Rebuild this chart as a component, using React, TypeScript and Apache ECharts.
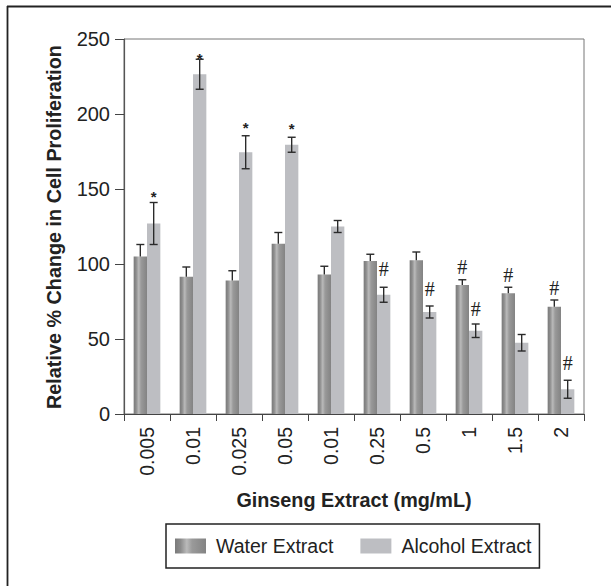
import React, { useEffect, useRef } from "react";
import * as echarts from "echarts";

const categories = ["0.005", "0.01", "0.025", "0.05", "0.01", "0.25", "0.5", "1", "1.5", "2"];
const waterValues = [105, 91.5, 89, 113.5, 93, 102, 102.5, 86, 80.5, 71.5];
const waterErrors = [8, 6.5, 6.5, 7.5, 5.5, 4.5, 5.5, 3.5, 4, 4.5];
const alcoholValues = [127, 226.5, 174.5, 179.5, 125, 79.5, 68, 55.5, 47.5, 16.5];
const alcoholErrors = [14, 10, 11, 5, 4, 5, 4, 4.5, 5.5, 6];
const alcoholMarks = ["*", "*", "*", "*", "", "#", "#", "#", "", "#"];
const alcoholMarkY = [147.4, 239.6, 193.4, 193, 0, 96.8, 83.1, 69.9, 0, 33.8];
const waterMarks = ["", "", "", "", "", "", "", "#", "#", "#"];
const waterMarkY = [0, 0, 0, 0, 0, 0, 0, 98, 93, 83.8];
const yTicks = { min: 0, max: 250, interval: 50 };

const FONT = "'Liberation Sans', Arial, Helvetica, sans-serif";
const CAT_GAP = 0.42;

export default function App() {
  const ref = useRef<HTMLDivElement>(null);
  useEffect(() => {
    if (!ref.current) return;
    const chart = echarts.init(ref.current, undefined, { renderer: "svg" });

    const barX = (api: any, idx: number, side: number) => {
      const c0 = api.coord([idx, 0]);
      const band = api.coord([1, 0])[0] - api.coord([0, 0])[0];
      const bw = (band * (1 - CAT_GAP)) / 2;
      return { x: c0[0] + (side * bw) / 2, bw };
    };

    const errorSeries = (values: number[], errors: number[], side: number, both: boolean) => ({
      type: "custom",
      z: 5,
      silent: true,
      data: values.map((v, i) => [i, v]),
      encode: { x: 0, y: 1 },
      renderItem: (params: any, api: any) => {
        const i = params.dataIndex;
        const v = values[i];
        const e = errors[i];
        const { x } = barX(api, i, side);
        const top = api.coord([i, v + e])[1];
        const mid = api.coord([i, v])[1];
        const bot = api.coord([i, v - e])[1];
        const cap = 4;
        const style = { stroke: "#2a2a2a", lineWidth: 1.4 };
        const children: any[] = [
          { type: "line", shape: { x1: x, y1: top, x2: x, y2: both ? bot : mid }, style },
          { type: "line", shape: { x1: x - cap, y1: top, x2: x + cap, y2: top }, style },
        ];
        if (both) {
          children.push({ type: "line", shape: { x1: x - cap, y1: bot, x2: x + cap, y2: bot }, style });
        }
        return { type: "group", children };
      },
    });

    const markSeries = (marks: string[], markY: number[], side: number) => ({
      type: "custom",
      z: 6,
      silent: true,
      data: marks.map((m, i) => [i, markY[i]]),
      encode: { x: 0, y: 1 },
      renderItem: (params: any, api: any) => {
        const i = params.dataIndex;
        const m = marks[i];
        if (!m) return null;
        const { x } = barX(api, i, side);
        const y = api.coord([i, markY[i]])[1];
        const star = m === "*";
        return {
          type: "text",
          style: {
            text: m,
            x,
            y: star ? y + 4 : y,
            align: "center",
            verticalAlign: "middle",
            fill: "#222",
            font: star ? `bold 15px ${FONT}` : `20px 'Liberation Serif', 'Times New Roman', serif`,
          },
        };
      },
    });

    const waterGradient = new echarts.graphic.LinearGradient(0, 0, 1, 0, [
      { offset: 0, color: "#7a7a7a" },
      { offset: 0.18, color: "#8c8c8c" },
      { offset: 0.38, color: "#bababa" },
      { offset: 0.55, color: "#9a9a9a" },
      { offset: 1, color: "#838383" },
    ]);

    chart.setOption({
      animation: false,
      backgroundColor: "#fff",
      grid: {
        left: 124,
        top: 39,
        width: 460,
        height: 375,
        show: true,
        borderColor: "#777",
        borderWidth: 1,
      },
      legend: {
        left: 166,
        top: 524,
        orient: "horizontal",
        itemWidth: 31,
        itemHeight: 15,
        itemGap: 27,
        padding: [12, 8, 12, 9],
        borderColor: "#222",
        borderWidth: 1.5,
        icon: "rect",
        selectedMode: false,
        textStyle: { fontFamily: FONT, fontSize: 19.5, color: "#222", padding: [0, 0, 0, 5] },
        data: ["Water Extract", "Alcohol Extract"],
      },
      xAxis: {
        type: "category",
        data: categories,
        axisLine: { lineStyle: { color: "#444", width: 1.2 } },
        axisTick: { show: true, length: 7, alignWithLabel: false, lineStyle: { color: "#444" } },
        axisLabel: { rotate: 90, margin: 13, fontFamily: FONT, fontSize: 19.5, color: "#222" },
      },
      yAxis: {
        type: "value",
        min: yTicks.min,
        max: yTicks.max,
        interval: yTicks.interval,
        axisLine: { show: true, lineStyle: { color: "#555", width: 1.2 } },
        axisTick: { show: true, length: 9, lineStyle: { color: "#444" } },
        splitLine: { show: false },
        axisLabel: { margin: 14, fontFamily: FONT, fontSize: 20, color: "#222" },
      },
      graphic: [
        { type: "line", shape: { x1: 7, y1: 6.5, x2: 611, y2: 6.5 }, style: { stroke: "#222", lineWidth: 1.8 } },
        { type: "line", shape: { x1: 7.5, y1: 6, x2: 7.5, y2: 586 }, style: { stroke: "#222", lineWidth: 1.8 } },
        {
          type: "text",
          x: 54,
          y: 227,
          rotation: Math.PI / 2,
          style: {
            text: "Relative % Change in Cell Proliferation",
            align: "center",
            verticalAlign: "middle",
            font: `bold 19.8px ${FONT}`,
            fill: "#222",
          },
        },
        {
          type: "text",
          x: 354,
          y: 500,
          style: {
            text: "Ginseng Extract (mg/mL)",
            align: "center",
            verticalAlign: "middle",
            font: `bold 19.8px ${FONT}`,
            fill: "#222",
          },
        },
      ],
      series: [
        {
          name: "Water Extract",
          type: "bar",
          data: waterValues,
          barGap: "0%",
          barCategoryGap: `${CAT_GAP * 100}%`,
          itemStyle: { color: waterGradient },
        },
        {
          name: "Alcohol Extract",
          type: "bar",
          data: alcoholValues,
          barGap: "0%",
          barCategoryGap: `${CAT_GAP * 100}%`,
          itemStyle: { color: "#bdbec2" },
        },
        errorSeries(waterValues, waterErrors, -1, false),
        errorSeries(alcoholValues, alcoholErrors, 1, true),
        markSeries(waterMarks, waterMarkY, -1),
        markSeries(alcoholMarks, alcoholMarkY, 1),
      ],
    });
    return () => chart.dispose();
  }, []);
  return <div ref={ref} style={{ position: "absolute", left: 0, top: 0, width: 611, height: 586 }} />;
}
